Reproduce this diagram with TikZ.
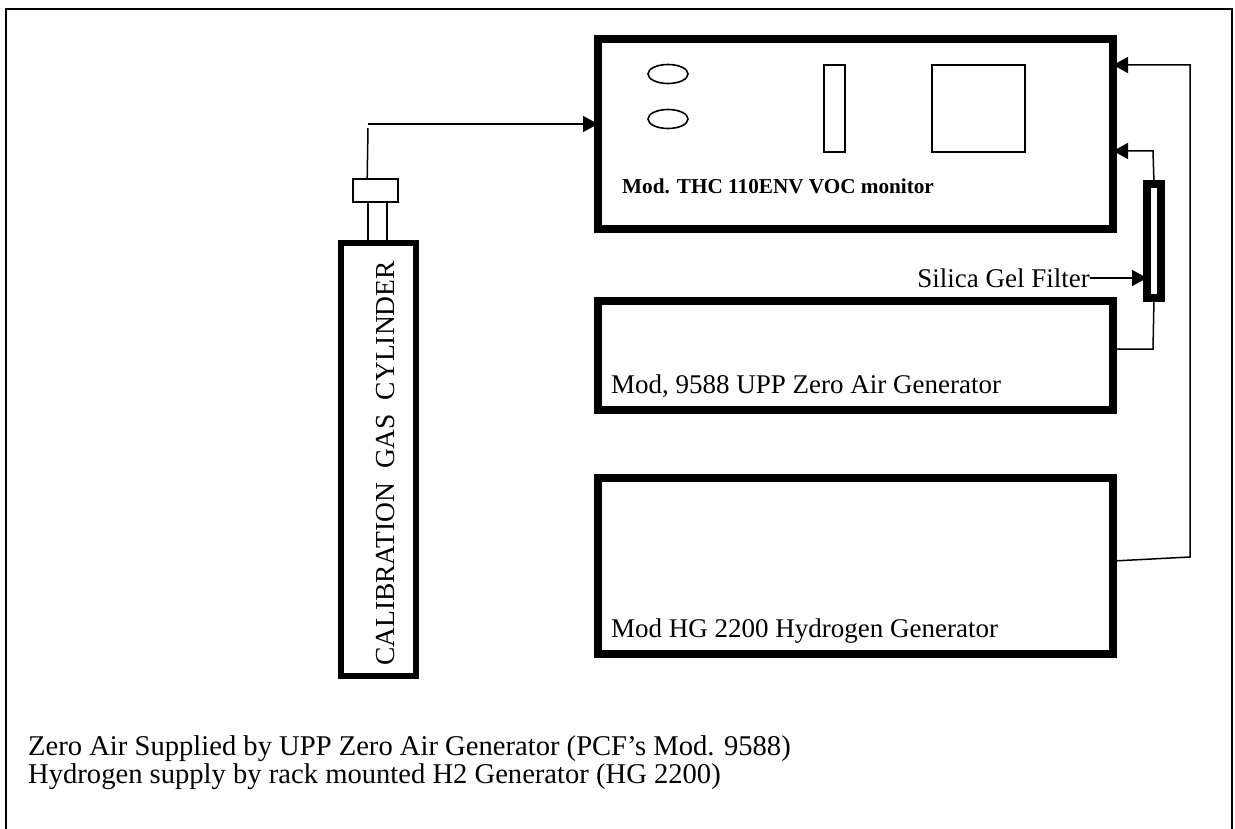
\documentclass[tikz,border=0pt]{standalone}
\usepackage{fontspec}
\setmainfont{Liberation Serif}
\usetikzlibrary{arrows.meta,shapes.geometric}
\begin{document}
\begin{tikzpicture}[x=1pt,y=-1pt,
  thick box/.style={draw,line width=8pt,inner sep=0pt,outer sep=0pt},
  thin box/.style={draw,line width=1.6pt,inner sep=0pt},
  pipe/.style={line width=1.5pt},
  arr/.style={pipe,-{Triangle[length=15pt,width=16pt]}},
  lbl/.style={font=\fontsize{27}{32}\selectfont,anchor=base west,inner sep=0pt}]
\useasboundingbox (0,0) rectangle (1235,829);
% outer frame (open at bottom)
\draw[line width=2pt] (6,829) -- (6,9) -- (1232,9) -- (1232,829);
% monitor
\node[thick box,minimum width=515pt,minimum height=190pt] (mon) at (855.5,134) {};
\node[thin box,ellipse,minimum width=40pt,minimum height=19pt] (k1) at (668,74) {};
\node[thin box,ellipse,minimum width=40pt,minimum height=19pt] (k2) at (668,119) {};
\node[thin box,minimum width=21pt,minimum height=87pt] (slot) at (834.5,108.5) {};
\node[thin box,minimum width=93pt,minimum height=87pt] (scr) at (978.5,108.5) {};
\node[font=\fontsize{21.2}{25}\selectfont\bfseries,anchor=base west,inner sep=0pt] (monl) at (622,194) {Mod. THC 110ENV VOC monitor};
% zero air generator
\node[thick box,minimum width=515pt,minimum height=109pt] (zag) at (855.5,355.5) {};
\node[lbl] (zagl) at (611,393) {Mod, 9588 UPP Zero Air Generator};
% hydrogen generator
\node[thick box,minimum width=515pt,minimum height=176pt] (hg) at (855.5,566) {};
\node[lbl] (hgl) at (611,637) {Mod HG 2200 Hydrogen Generator};
% cylinder
\node[draw,line width=5.5pt,inner sep=0pt,minimum width=75pt,minimum height=433pt] (cyl) at (378.5,459.5) {};
\node[rotate=90,anchor=base,inner sep=0pt,font=\fontsize{27.5}{32}\selectfont] (cyll) at (394,463.5) {CALIBRATION\ \ GAS\ \ CYLINDER};
\node[thin box,minimum width=19pt,minimum height=41pt] (neck) at (377.5,222.5) {};
\node[thin box,fill=white,minimum width=45pt,minimum height=23pt] (valve) at (375.5,190.5) {};
% filter
\node[draw,line width=8pt,inner sep=0pt,outer sep=0pt,minimum width=14pt,minimum height=114pt] (filt) at (1154,241) {};
\node[lbl,anchor=east] (sgf) at (1090,278) {Silica Gel Filter};
% connectors
\coordinate (c1) at (368,124);
\draw[pipe] (valve.north -| neck.west) -- (368,128);
\draw[arr] (c1) -- (c1 -| mon.west);
\coordinate (c2) at (1153,151);
\draw[arr] (filt.north) -- (c2) -- (c2 -| mon.east);
\coordinate (c3) at (1153,349);
\draw[pipe] (filt.south) -- (c3) -- (c3 -| zag.east);
\coordinate (c4) at (1190,65);
\coordinate (c5) at (1190,557);
\draw[arr] (hg.east |- 0,561) -- (c5) -- (c4) -- (c4 -| mon.east);
\draw[arr] (sgf.east) -- (sgf.east -| filt.west);
% notes
\node[lbl,font=\fontsize{28.6}{32}\selectfont] (n1) at (28,755) {Zero Air Supplied by UPP Zero Air Generator (PCF’s Mod. 9588)};
\node[lbl,font=\fontsize{28.6}{32}\selectfont] (n2) at (28,783) {Hydrogen supply by rack mounted H2 Generator (HG 2200)};
\end{tikzpicture}
\end{document}
